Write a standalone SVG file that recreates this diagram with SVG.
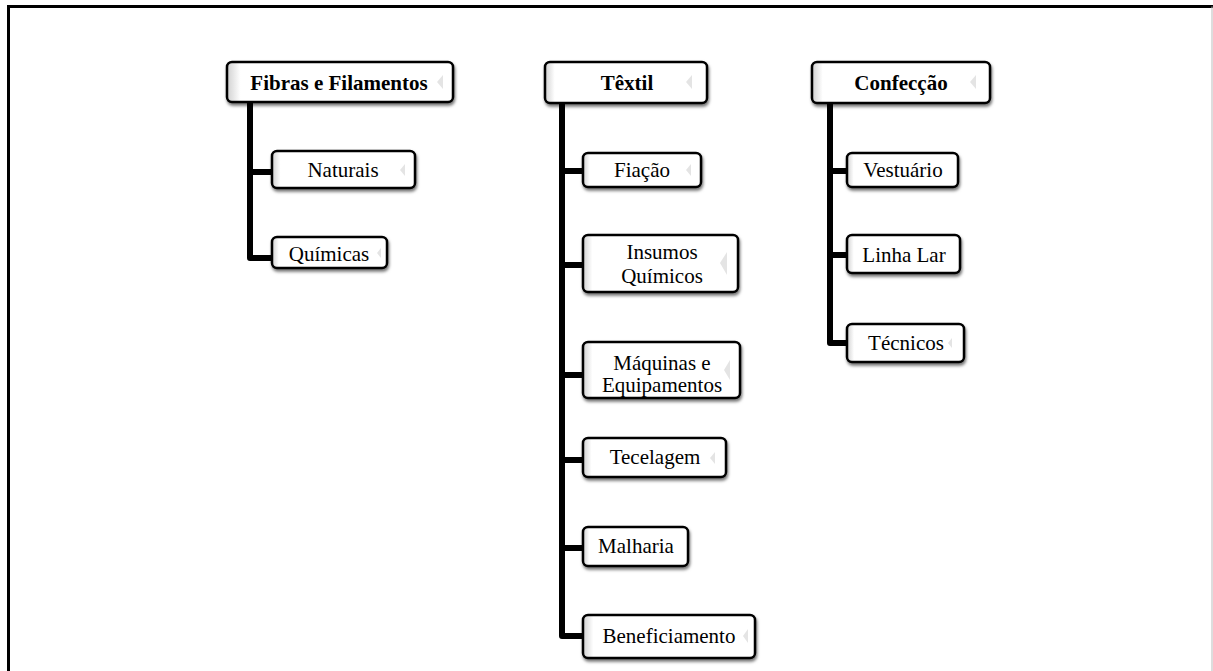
<svg xmlns="http://www.w3.org/2000/svg" width="1213" height="671" viewBox="0 0 1213 671">
<defs>
<linearGradient id="bev" x1="0" y1="0" x2="1" y2="0">
<stop offset="0" stop-color="#d0d0d0"/>
<stop offset="0.06" stop-color="#ffffff"/>
<stop offset="1" stop-color="#ffffff"/>
</linearGradient>
<filter id="sh" x="-10%" y="-20%" width="130%" height="160%">
<feDropShadow dx="1" dy="2.5" stdDeviation="1.6" flood-color="#000" flood-opacity="0.55"/>
</filter>
</defs>
<style>
.box{fill:url(#bev);stroke:#000;stroke-width:2.5;filter:url(#sh)}
.wedge{fill:#e4e4e4}
.t{font-family:"Liberation Serif","Times New Roman",serif;font-size:21px;fill:#000;text-anchor:middle}
.b{font-weight:bold}
.con{fill:none;stroke:#000;stroke-width:6;stroke-linejoin:round}
</style>
<rect width="1213" height="671" fill="#fff"/>
<g id="frame">
<path d="M8.5,671 V6.5 H1213" fill="none" stroke="#000" stroke-width="3"/>
<line x1="1212" y1="6.5" x2="1212" y2="671" stroke="#bbb" stroke-width="1"/>
</g>
<g id="connectors">
<path class="con" d="M250,102 V258 H273 M250,172 H273"/>
<path class="con" d="M562,103 V636 H584 M562,171 H584 M562,265 H584 M562,375 H584 M562,460 H584 M562,548 H584"/>
<path class="con" d="M830,103 V343 H848 M830,171 H848 M830,255 H848"/>
</g>
<g id="n-fibras"><rect class="box" x="227" y="62" width="226" height="40" rx="5"/><polygon class="wedge" points="437,82 443,75 443,89"/><text class="t b" x="339" y="90">Fibras e Filamentos</text></g>
<g id="n-naturais"><rect class="box" x="272" y="151" width="143" height="37" rx="5"/><polygon class="wedge" points="400,170 405,164 405,176"/><text class="t" x="343" y="177">Naturais</text></g>
<g id="n-quimicas"><rect class="box" x="272" y="237" width="115" height="31" rx="5"/><polygon class="wedge" points="377,253 381,248 381,258"/><text class="t" x="329" y="261">Químicas</text></g>
<g id="n-textil"><rect class="box" x="545" y="62" width="162" height="41" rx="5"/><polygon class="wedge" points="686,82 692,75 692,89"/><text class="t b" x="627" y="90">Têxtil</text></g>
<g id="n-fiacao"><rect class="box" x="583" y="153" width="118" height="34" rx="5"/><polygon class="wedge" points="686,170 691,164 691,176"/><text class="t" x="642" y="177">Fiação</text></g>
<g id="n-insumos"><rect class="box" x="583" y="235" width="155" height="57" rx="5"/><polygon class="wedge" points="720,263 727,252 727,275"/><text class="t" x="662" y="259">Insumos</text><text class="t" x="662" y="283">Químicos</text></g>
<g id="n-maquinas"><rect class="box" x="583" y="342" width="157" height="56" rx="5"/><polygon class="wedge" points="724,370 730,360 730,380"/><text class="t" x="662" y="370">Máquinas e</text><text class="t" x="662" y="392">Equipamentos</text></g>
<g id="n-tecelagem"><rect class="box" x="583" y="438" width="143" height="39" rx="5"/><polygon class="wedge" points="710,458 715,452 715,464"/><text class="t" x="655" y="464">Tecelagem</text></g>
<g id="n-malharia"><rect class="box" x="583" y="527" width="105" height="39" rx="5"/><text class="t" x="636" y="553">Malharia</text></g>
<g id="n-beneficiamento"><rect class="box" x="583" y="615" width="172" height="43" rx="5"/><polygon class="wedge" points="743,636 748,629 748,643"/><text class="t" x="669" y="643">Beneficiamento</text></g>
<g id="n-confeccao"><rect class="box" x="812" y="62" width="178" height="41" rx="5"/><polygon class="wedge" points="970,82 976,75 976,89"/><text class="t b" x="901" y="90">Confecção</text></g>
<g id="n-vestuario"><rect class="box" x="847" y="153" width="111" height="34" rx="5"/><text class="t" x="903" y="177">Vestuário</text></g>
<g id="n-linhalar"><rect class="box" x="847" y="235" width="113" height="38" rx="5"/><text class="t" x="904" y="262">Linha Lar</text></g>
<g id="n-tecnicos"><rect class="box" x="847" y="324" width="117" height="38" rx="5"/><polygon class="wedge" points="948,343 952,338 952,348"/><text class="t" x="906" y="350">Técnicos</text></g>
</svg>
